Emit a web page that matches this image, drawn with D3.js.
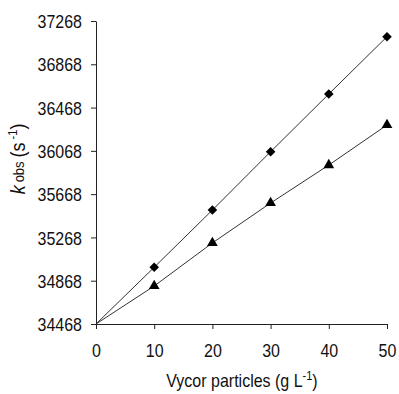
<!DOCTYPE html>
<html>
<head>
<meta charset="utf-8">
<script src="https://cdn.jsdelivr.net/npm/d3@7"></script>
<style>
  body { margin: 0; background: #fff; }
  text { font-family: 'Liberation Sans', Arial, sans-serif; fill: #111; }
</style>
</head>
<body>
<div id="chart"></div>
<script>
const xValues = [10, 20, 30, 40, 50];
const diamondValues = [34992, 35521, 36060, 36593, 37123];
const triangleValues = [34819, 35217, 35586, 35937, 36307];
const origin = { x: 0, y: 34468 };
const xTicks = [0, 10, 20, 30, 40, 50];
const yTicks = [34468, 34868, 35268, 35668, 36068, 36468, 36868, 37268];

const width = 399;
const height = 394;
const margin = { top: 21, right: 12, bottom: 70, left: 96 };
const stretch = 1.15; // reference font is taller than wide

const svg = d3.select('#chart')
  .append('svg')
  .attr('width', width)
  .attr('height', height);

const x = d3.scaleLinear([0, 50], [margin.left, width - margin.right]);
const y = d3.scaleLinear([34468, 37268], [height - margin.bottom, margin.top]);

// axes
const axisX = d3.axisBottom(x).tickValues(xTicks).tickFormat(d3.format('d')).tickSize(5).tickSizeOuter(0);
const gx = svg.append('g')
  .attr('transform', `translate(0, ${y(34468)})`)
  .call(axisX);

const axisY = d3.axisLeft(y).tickValues(yTicks).tickFormat(d3.format('d')).tickSize(5).tickSizeOuter(0);
const gy = svg.append('g')
  .attr('transform', `translate(${x(0)}, 0)`)
  .call(axisY);

[gx, gy].forEach(g => {
  g.select('.domain').attr('stroke', '#222');
  g.selectAll('.tick line').attr('stroke', '#222');
  g.selectAll('.tick text').style('font-size', '16px').attr('fill', '#111')
    .attr('transform', `scale(1, ${stretch})`);
});
gx.selectAll('.tick text').attr('y', 33 / stretch).attr('dy', 0);
gy.selectAll('.tick text').attr('x', -14).attr('dy', '0.36em');

// lines through origin
const line = d3.line().x(d => x(d[0])).y(d => y(d[1]));
const series = [
  { values: diamondValues, symbol: d3.symbolSquare, size: 46, rotate: 45 },
  { values: triangleValues, symbol: d3.symbolTriangle, size: 50, rotate: 0 }
];

series.forEach(s => {
  const pts = [[origin.x, origin.y]].concat(xValues.map((v, i) => [v, s.values[i]]));
  svg.append('path')
    .datum(pts)
    .attr('d', line)
    .attr('fill', 'none')
    .attr('stroke', '#333')
    .attr('stroke-width', 1);

  svg.selectAll(null)
    .data(xValues.map((v, i) => [v, s.values[i]]))
    .enter()
    .append('path')
    .attr('d', d3.symbol().type(s.symbol).size(s.size))
    .attr('transform', d => `translate(${x(d[0])}, ${y(d[1])}) rotate(${s.rotate})`)
    .attr('fill', '#000');
});

// x label
const xl = svg.append('text')
  .attr('transform', `translate(242, 387) scale(1, ${stretch})`)
  .attr('text-anchor', 'middle')
  .style('font-size', '16px');
xl.append('tspan').text('Vycor particles (g L');
xl.append('tspan').attr('dy', -6).style('font-size', '11px').text('-1');
xl.append('tspan').attr('dy', 6).text(')');

// y label
const yl = svg.append('text')
  .attr('transform', `translate(25, 159) rotate(-90) scale(1, ${stretch})`)
  .attr('text-anchor', 'middle')
  .style('font-size', '18px');
yl.append('tspan').style('font-style', 'italic').text('k');
yl.append('tspan').style('font-size', '13px').attr('dx', 3).attr('dy', -1).text('obs');
yl.append('tspan').attr('dx', 4).attr('dy', 1).text('(s');
yl.append('tspan').attr('dy', -7).style('font-size', '11px').text(' -1');
yl.append('tspan').attr('dy', 7).text(')');
</script>
</body>
</html>
